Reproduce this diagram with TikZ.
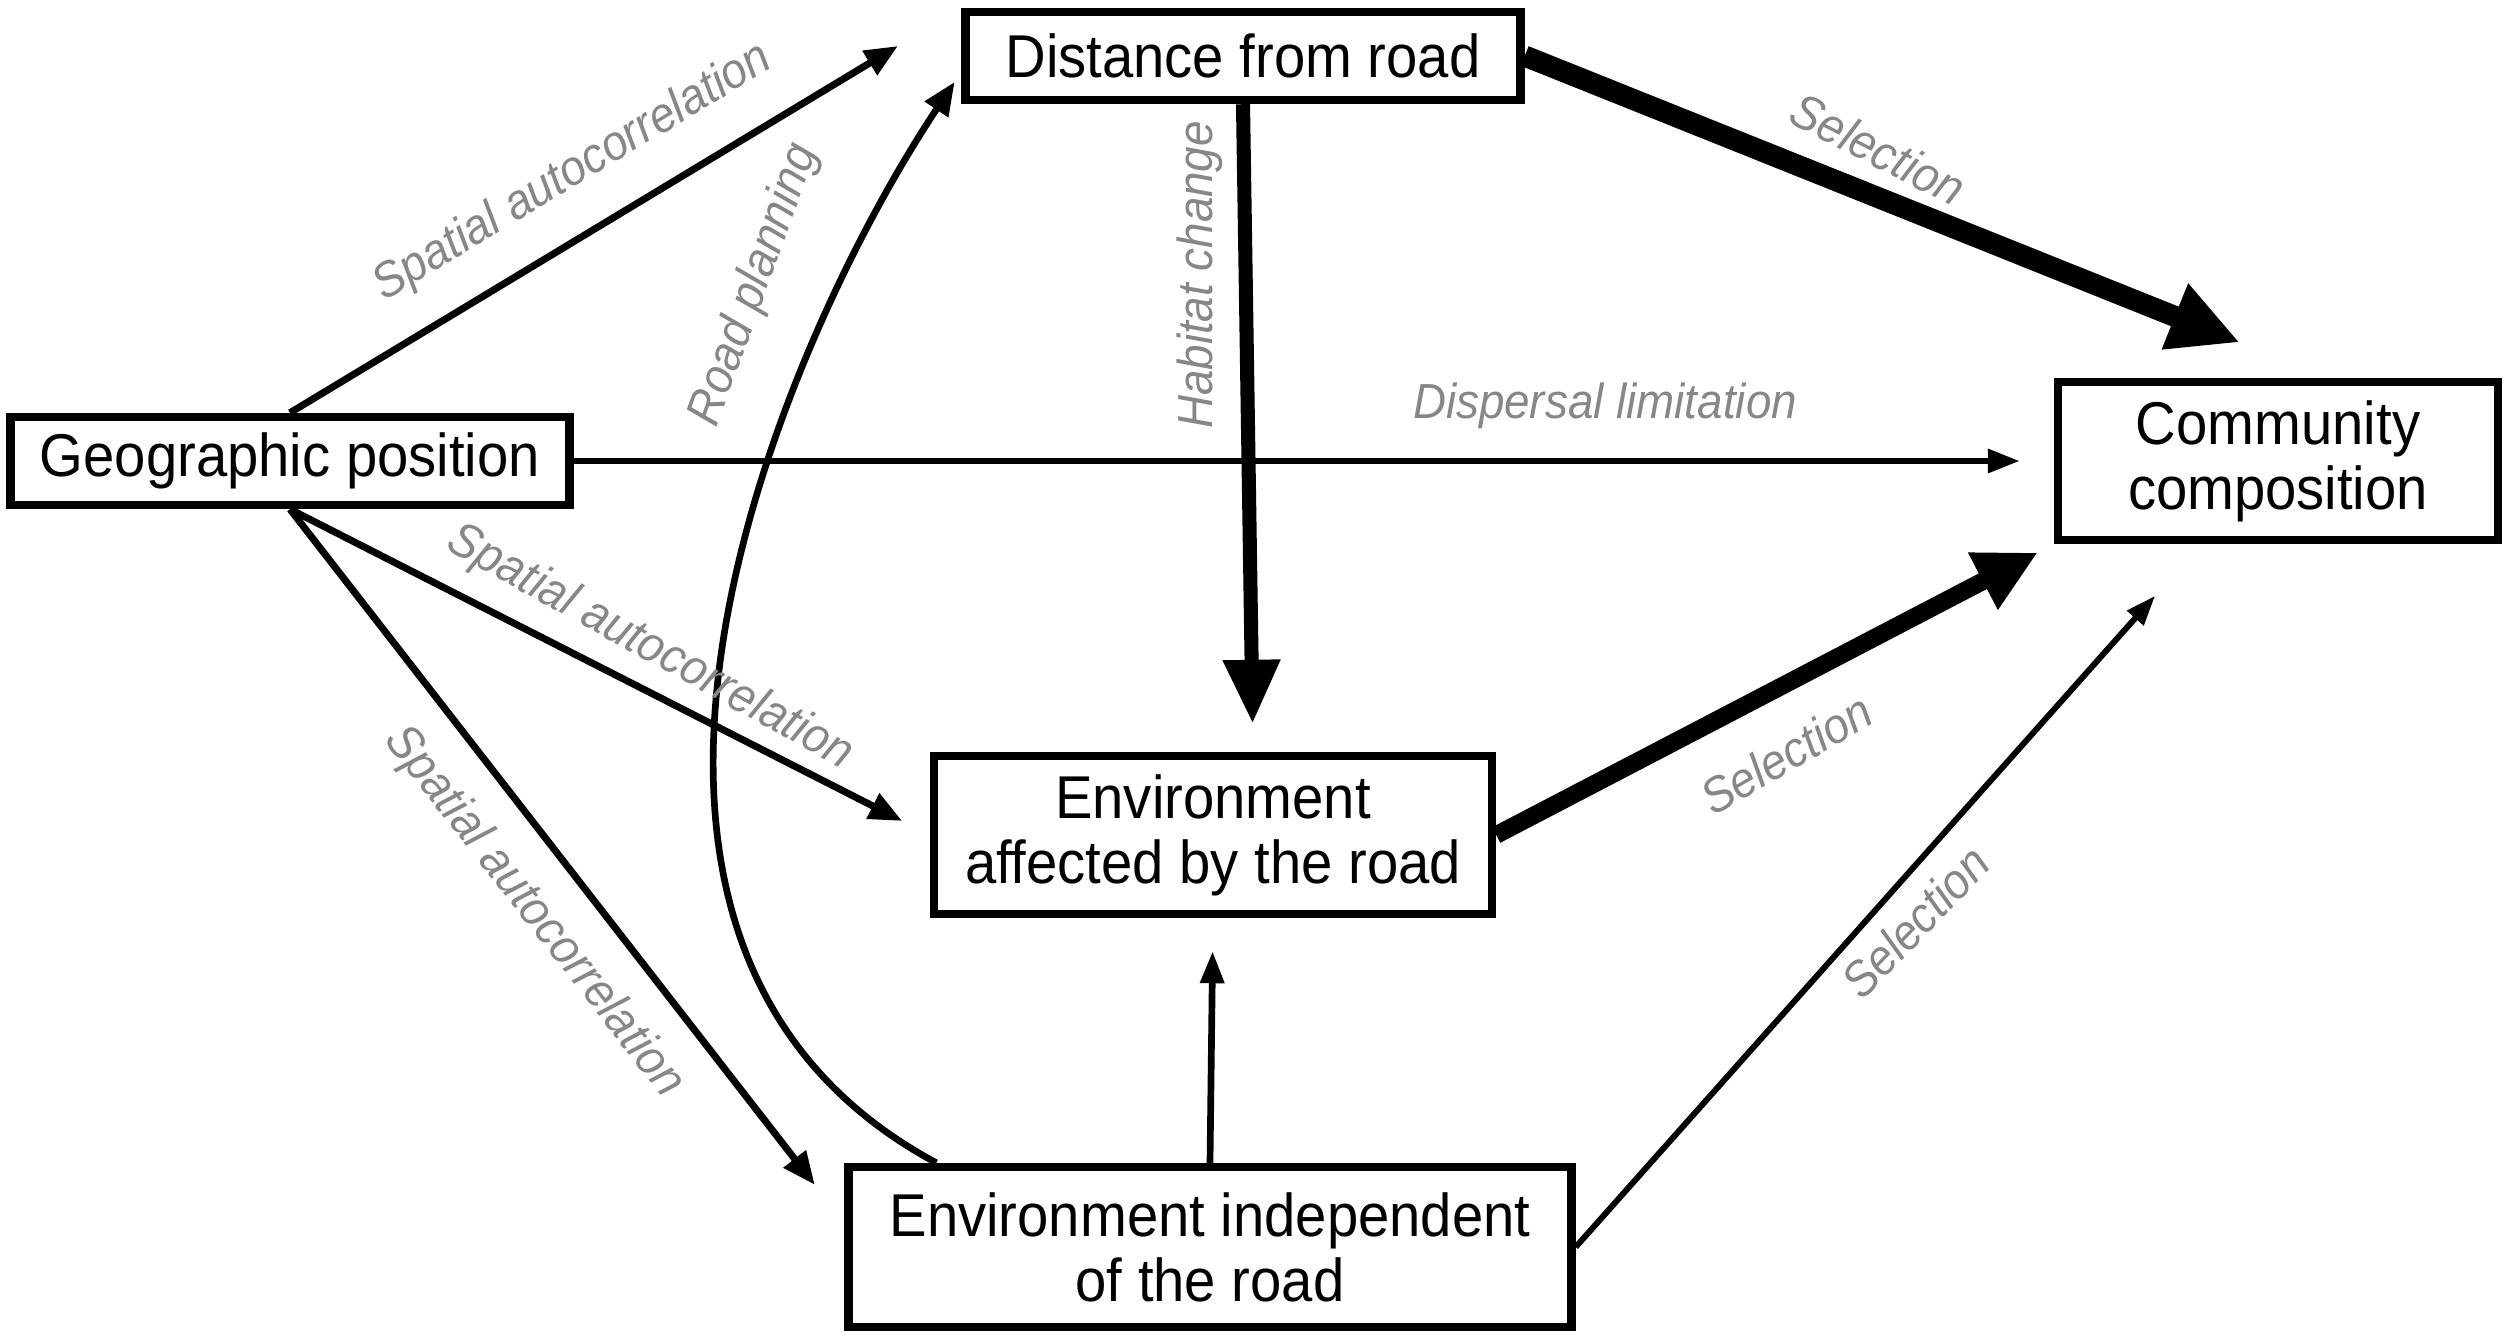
\documentclass[tikz,border=0pt]{standalone}
\usepackage{fontspec}
\setmainfont{Liberation Sans}[FakeStretch=0.93]
\usepackage{tikz}
\usetikzlibrary{arrows.meta}
\definecolor{colorlabel}{RGB}{135,135,135}
\definecolor{colorline} {RGB}{0,0,0}

\begin{document}
\begin{tikzpicture}[
    box/.style={draw=colorline,fill=white,line width=2.4pt,inner sep=0pt,align=center,
        font={\fontsize{17.2}{18.5}\selectfont}},
    lbl/.style={text=colorlabel,inner sep=0pt,font={\fontsize{14}{16}\selectfont\itshape}},
    arr/.style={draw=colorline,-{Triangle[length=0.33cm,width=0.27cm]},line width=2pt},
    midarr/.style={draw=colorline,-{Triangle[length=0.32cm,width=0.23cm]},line width=1.8pt},
    thinarr/.style={draw=colorline,-{Triangle[length=0.3cm,width=0.21cm]},line width=1.7pt},
]
    \useasboundingbox (0,0) rectangle (25.08,13.38);

    % boxes
    \node[box,minimum width=5.55cm,minimum height=0.88cm] (dist) at (12.43,12.82) {Distance from road};
    \node[box,minimum width=5.59cm,minimum height=0.88cm] (geo) at (2.90,8.77) {Geographic position};
    \node[box,minimum width=4.40cm,minimum height=1.58cm] (comm) at (22.78,8.77) {Community\\composition};
    \node[box,minimum width=5.58cm,minimum height=1.58cm] (aff) at (12.13,5.03) {Environment\\affected by the road};
    \node[box,minimum width=7.23cm,minimum height=1.60cm] (indep) at (12.10,0.91) {Environment independent\\of the road};

    % links
    \draw[arr,shorten >=0.74cm] (geo.north) -- (dist.north west);
    \draw[midarr,shorten >=0.34cm] (geo.east) -- (comm.west);
    \draw[arr,shorten >=0.31cm] (geo.south) -- (aff.west);
    \draw[arr,shorten >=0.48cm] (geo.south) -- ([yshift=-6mm]indep.north west);
    \draw[arr,line width=1.9pt,shorten >=0.12cm] ([xshift=9.2mm]indep.north west)
        .. controls +(-4.1,2.2) and +(-1.85,-2.78) .. ([yshift=-1.6mm]dist.west);
    \draw[-{Triangle[length=0.7cm,width=0.66cm]},line width=6pt,shorten >=0.95cm] (dist.east) -- ([xshift=5mm]comm.north);
    \draw[-{Triangle[length=0.64cm,width=0.54cm]},line width=4pt,shorten >=0.28cm] (dist.south) -- ([xshift=4mm]aff.north);
    \draw[-{Triangle[length=0.62cm,width=0.6cm]},line width=5pt,shorten >=0.18cm] (aff.east) -- (comm.south west);
    \draw[midarr,line width=1.9pt,shorten >=0.33cm] (indep.north) -- (aff.south);
    \draw[thinarr,shorten >=0.69cm] (indep.east) -- ([xshift=-7.7mm]comm.south);

    % labels
    \node[lbl,rotate=31] (sa1) at (5.73,11.65) {Spatial autocorrelation};
    \node[lbl,rotate=70] (plan) at (7.55,10.53) {Road planning};
    \node[lbl,rotate=90] (habit) at (12.00,10.63) {Habitat change};
    \node[lbl,rotate=-27] (sel1) at (18.78,11.89) {Selection};
    \node[lbl] (disp) at (16.05,9.32) {Dispersal limitation};
    \node[lbl,rotate=-29] (sa2) at (6.50,6.90) {Spatial autocorrelation};
    \node[lbl,rotate=-52] (sa3) at (5.34,4.26) {Spatial autocorrelation};
    \node[lbl,rotate=30] (sel2) at (17.86,5.84) {Selection};
    \node[lbl,rotate=46] (sel3) at (19.15,4.16) {Selection};

\end{tikzpicture}
\end{document}
